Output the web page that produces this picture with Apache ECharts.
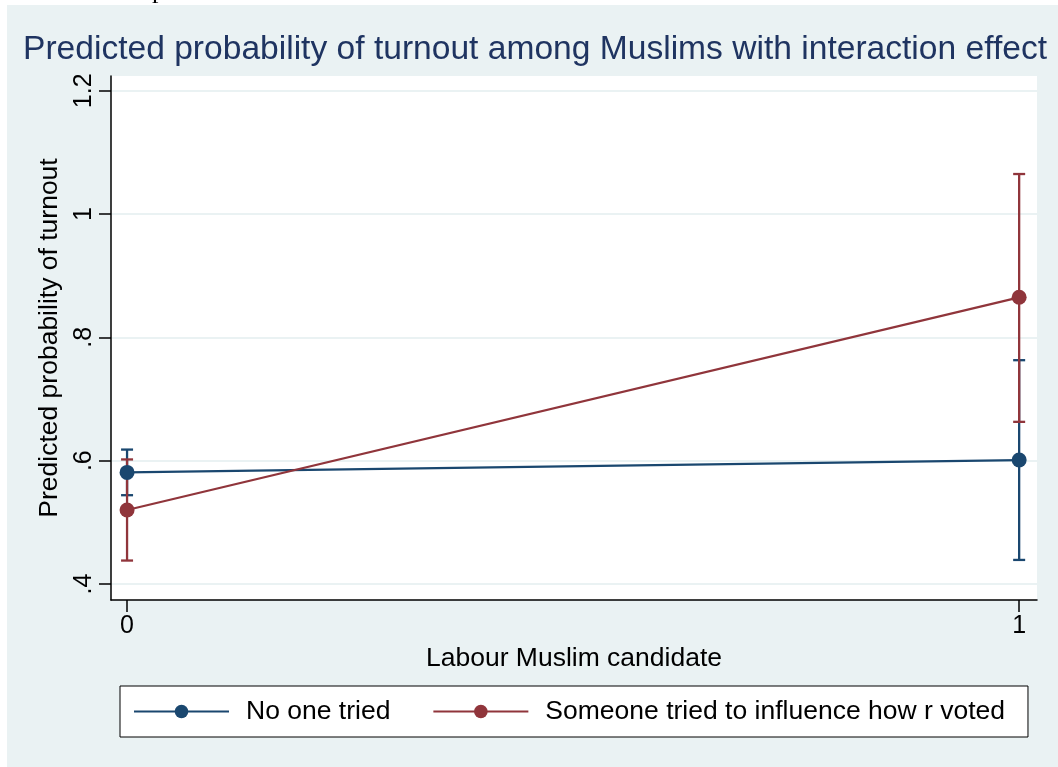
<!DOCTYPE html>
<html>
<head>
<meta charset="utf-8">
<script src="https://cdn.jsdelivr.net/npm/echarts@6/dist/echarts.min.js"></script>
<style>
  html, body { margin: 0; padding: 0; background: #fff; }
  #chart { width: 1058px; height: 767px; }
</style>
</head>
<body>
<div id="chart"></div>
<script>
// x positions (Labour Muslim candidate)
const categories = [0, 1];
// No one tried
const noOneMean = [0.581, 0.601];
const noOneLow = [0.544, 0.439];
const noOneHigh = [0.618, 0.763];
// Someone tried to influence how r voted
const someoneMean = [0.520, 0.865];
const someoneLow = [0.438, 0.663];
const someoneHigh = [0.602, 1.065];

const yTicks = [0.4, 0.6, 0.8, 1, 1.2];
const xTicks = [0, 1];

const BLUE = "#1a476f";
const RED = "#90353b";
const BG = "#eaf2f3";
const FONT = "Liberation Sans, Arial, sans-serif";

const chart = echarts.init(document.getElementById("chart"));

// error bar drawn as a vertical line with caps
function errorBar(color) {
    return function (params, api) {
        const x = api.value(0);
        const lo = api.coord([x, api.value(1)]);
        const hi = api.coord([x, api.value(2)]);
        const cap = 6;
        const style = { stroke: color, lineWidth: 2.3 };
        return {
            type: "group",
            children: [
                { type: "line", shape: { x1: lo[0], y1: lo[1], x2: hi[0], y2: hi[1] }, style },
                { type: "line", shape: { x1: lo[0] - cap, y1: lo[1], x2: lo[0] + cap, y2: lo[1] }, style },
                { type: "line", shape: { x1: hi[0] - cap, y1: hi[1], x2: hi[0] + cap, y2: hi[1] }, style }
            ]
        };
    };
}

const fmtY = v => (v >= 1 ? String(v) : String(v).replace(/^0/, ""));

const option = {
    backgroundColor: "#fff",
    animation: false,
    textStyle: { fontFamily: FONT },
    graphic: [
        { type: "rect", left: 7, top: 5, shape: { width: 1051, height: 762 }, style: { fill: BG }, z: -10 },
        { type: "text", left: 152, top: -22, style: { text: "p", font: "26px Liberation Serif", fill: "#000" }, z: -5 }
    ],
    title: {
        text: "Predicted probability of turnout among Muslims with interaction effect",
        left: 18,
        top: 28,
        textStyle: { color: "#1f3461", fontSize: 33.6, fontWeight: "normal", fontFamily: FONT }
    },
    legend: {
        left: 120,
        top: 686,
        padding: [12, 23, 12, 13],
        itemGap: 42,
        itemWidth: 95,
        itemHeight: 17,
        backgroundColor: "#fff",
        borderColor: "#000",
        borderWidth: 1,
        borderRadius: 0,
        textStyle: { fontSize: 26.5, color: "#000", padding: [0, 0, 0, 12], fontFamily: FONT },
        data: ["No one tried", "Someone tried to influence how r voted"]
    },
    grid: {
        left: 111,
        right: 21,
        top: 76,
        bottom: 167,
        show: true,
        backgroundColor: "#fff",
        borderWidth: 0,
        containLabel: false
    },
    xAxis: {
        type: "value",
        min: -0.018,
        max: 1.02,
        name: "Labour Muslim candidate",
        nameLocation: "middle",
        nameGap: 45,
        nameTextStyle: { fontSize: 26.5, color: "#000" },
        axisLine: { show: true, onZero: false, lineStyle: { color: "#000", width: 1.5 } },
        axisTick: { show: true, length: 12, customValues: xTicks, lineStyle: { color: "#000", width: 1.5 } },
        axisLabel: { customValues: xTicks, fontSize: 25, color: "#000", margin: 14 },
        splitLine: { show: false }
    },
    yAxis: {
        type: "value",
        min: 0.374,
        max: 1.224,
        name: "Predicted probability of turnout",
        nameLocation: "middle",
        nameRotate: 90,
        nameGap: 48,
        nameTextStyle: { fontSize: 26.5, color: "#000" },
        axisLine: { show: true, onZero: false, lineStyle: { color: "#000", width: 1.5 } },
        axisTick: { show: true, length: 12, customValues: yTicks, lineStyle: { color: "#000", width: 1.5 } },
        axisLabel: { customValues: yTicks, rotate: 90, fontSize: 25, color: "#000", margin: 14, formatter: fmtY },
        splitLine: { show: true, lineStyle: { color: BG, width: 2 } }
    },
    series: [
        {
            name: "No one tried CI",
            type: "custom",
            renderItem: errorBar(BLUE),
            encode: { x: 0, y: [1, 2] },
            data: categories.map((c, i) => [c, noOneLow[i], noOneHigh[i]]),
            z: 2,
            silent: true
        },
        {
            name: "Someone tried CI",
            type: "custom",
            renderItem: errorBar(RED),
            encode: { x: 0, y: [1, 2] },
            data: categories.map((c, i) => [c, someoneLow[i], someoneHigh[i]]),
            z: 2,
            silent: true
        },
        {
            name: "No one tried",
            type: "line",
            data: categories.map((c, i) => [c, noOneMean[i]]),
            symbol: "circle",
            symbolSize: 15,
            itemStyle: { color: BLUE },
            lineStyle: { color: BLUE, width: 2.2 },
            z: 3
        },
        {
            name: "Someone tried to influence how r voted",
            type: "line",
            data: categories.map((c, i) => [c, someoneMean[i]]),
            symbol: "circle",
            symbolSize: 15,
            itemStyle: { color: RED },
            lineStyle: { color: RED, width: 2.2 },
            z: 3
        }
    ]
};

chart.setOption(option);
</script>
</body>
</html>
